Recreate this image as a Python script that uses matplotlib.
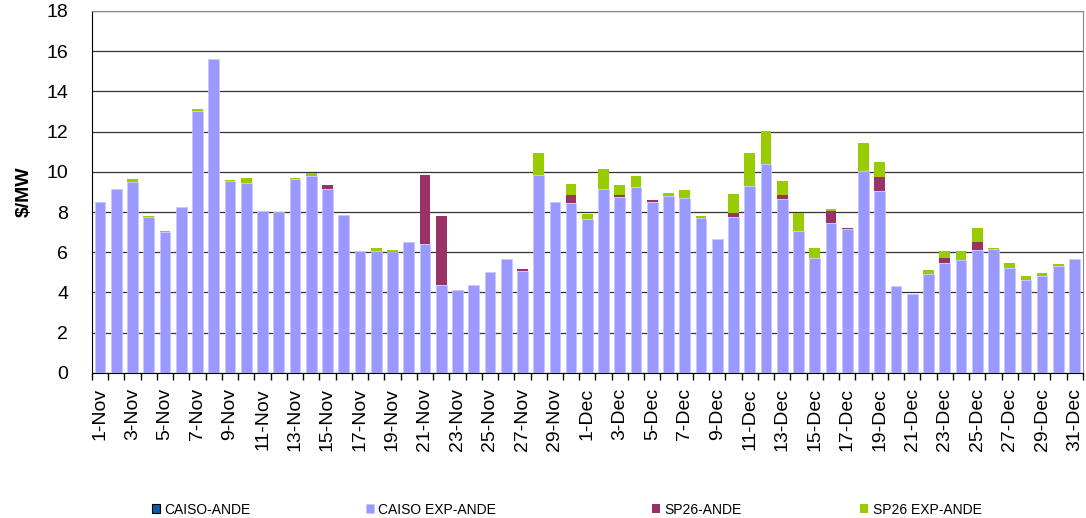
import matplotlib
matplotlib.use("Agg")
import matplotlib.pyplot as plt
import numpy as np

plt.rcParams["font.family"] = ["Liberation Sans", "DejaVu Sans"]

days = [f"{d}-Nov" for d in range(1, 31)] + [f"{d}-Dec" for d in range(1, 32)]

caiso_ande = [0.0] * 61

caiso_exp = [8.49, 9.14, 9.50, 7.76, 7.03, 8.26, 13.04, 15.60, 9.55, 9.43,
             8.06, 8.00, 9.62, 9.78, 9.14, 7.87, 6.08, 6.06, 6.01, 6.53,
             6.40, 4.35, 4.10, 4.39, 5.02, 5.66, 5.07, 9.82, 8.52, 8.44,
             7.64, 9.15, 8.75, 9.24, 8.50, 8.82, 8.70, 7.71, 6.68, 7.74,
             9.27, 10.40, 8.64, 7.06, 5.73, 7.44, 7.14, 10.05, 9.05, 4.32,
             3.94, 4.90, 5.45, 5.63, 6.10, 6.15, 5.23, 4.63, 4.82, 5.32, 5.66]

sp26 = [0, 0, 0, 0, 0, 0, 0, 0, 0, 0,
        0, 0, 0, 0, 0.18, 0, 0, 0, 0, 0,
        3.42, 3.47, 0, 0, 0, 0, 0.08, 0, 0, 0.41,
        0, 0, 0.10, 0, 0.10, 0, 0, 0, 0, 0.20,
        0, 0, 0.20, 0, 0, 0.63, 0.05, 0, 0.68, 0,
        0, 0, 0.26, 0, 0.40, 0, 0, 0, 0, 0, 0]

sp26_exp = [0, 0, 0.12, 0.06, 0.03, 0, 0.06, 0, 0.03, 0.24,
            0, 0, 0.05, 0.14, 0, 0, 0, 0.14, 0.09, 0,
            0, 0, 0, 0, 0, 0, 0, 1.09, 0, 0.52,
            0.27, 0.97, 0.49, 0.56, 0, 0.12, 0.42, 0.08, 0, 0.95,
            1.66, 1.63, 0.69, 0.90, 0.47, 0.10, 0, 1.40, 0.78, 0,
            0, 0.20, 0.35, 0.43, 0.73, 0.06, 0.22, 0.17, 0.13, 0.11, 0.02]

x = np.arange(len(days))
w = 0.66

fig = plt.figure(figsize=(10.86, 5.18), dpi=100)
ax = fig.add_axes([0.0847, 0.280, 0.9123, 0.699])

handles = []
b0 = np.zeros(len(days))
handles.append(ax.bar(x, caiso_ande, w, bottom=b0, color="#0B5AAA", edgecolor="black",
                      linewidth=0.8, label="CAISO-ANDE", zorder=3))
b0 = b0 + np.array(caiso_ande)
handles.append(ax.bar(x, caiso_exp, w, bottom=b0, color="#9999FF",
                      edgecolor="#C8C8FF", linewidth=0.5, label="CAISO EXP-ANDE", zorder=3))
b0 = b0 + np.array(caiso_exp)
handles.append(ax.bar(x, sp26, w, bottom=b0, color="#993366", label="SP26-ANDE", zorder=3))
b0 = b0 + np.array(sp26)
handles.append(ax.bar(x, sp26_exp, w, bottom=b0, color="#99CC00", label="SP26 EXP-ANDE", zorder=3))

ax.set_ylim(0, 18)
ax.set_yticks(range(0, 19, 2))
ax.set_xlim(-0.5, len(days) - 0.5)
ax.yaxis.grid(True, color="#333333", linewidth=0.9, zorder=0)

ax.set_xticks(x[::2])
ax.set_xticklabels(days[::2], rotation=90, fontsize=14)
ax.set_xticks(np.arange(-0.5, len(days), 1), minor=True)
ax.tick_params(axis="x", which="major", length=0, pad=11)
ax.tick_params(axis="x", which="minor", length=5, width=1, color="black")
ax.tick_params(axis="y", length=0, pad=17, labelsize=14)

ax.set_ylabel("$/MW", fontsize=14, fontweight="bold", labelpad=10)

for s in ["left", "bottom"]:
    ax.spines[s].set_color("black")
for s in ["top", "right"]:
    ax.spines[s].set_color("#888888")

# one legend per entry so each sits where the original puts it
for h, xpos in zip(handles, [0.140, 0.337, 0.600, 0.792]):
    fig.legend(handles=[h], loc="center left", bbox_to_anchor=(xpos, 0.016),
               frameon=False, fontsize=10, handlelength=0.6, handleheight=0.6,
               handletextpad=0.3, borderpad=0, borderaxespad=0)

fig.savefig("out.png", dpi=100)
